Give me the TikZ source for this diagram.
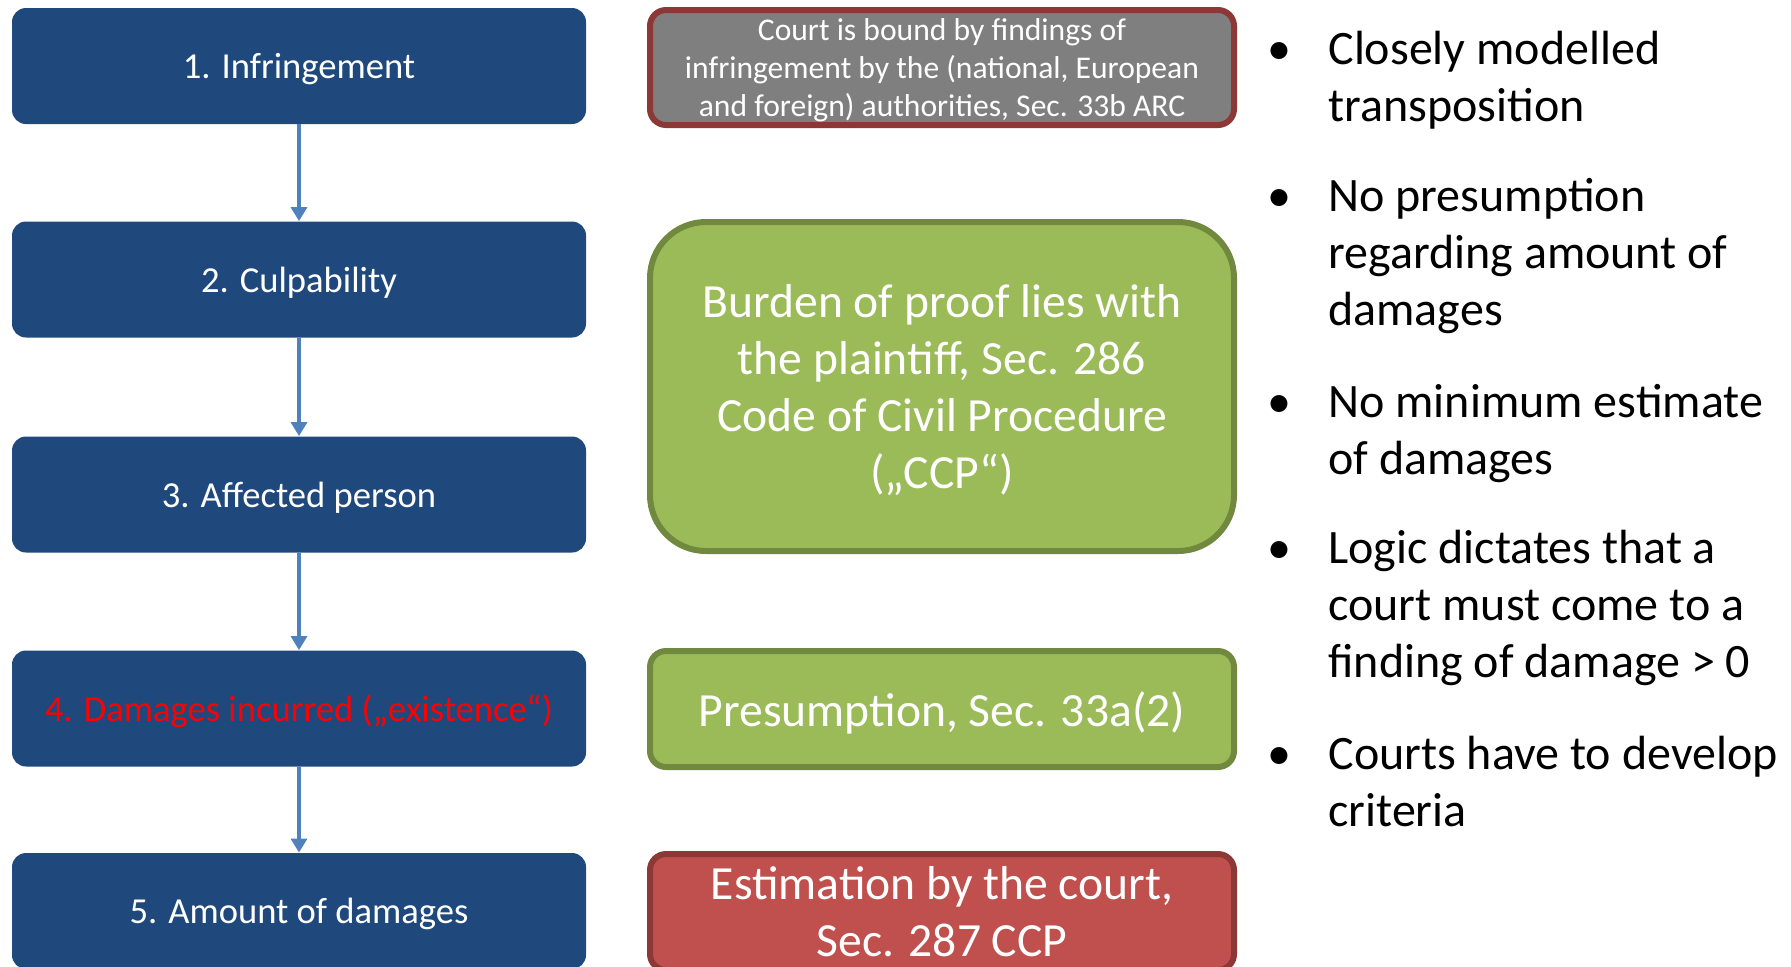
\documentclass[tikz,border=0pt]{standalone}
\usepackage{fontspec}
\setmainfont{Carlito}
\usepackage{xcolor}
\usepackage{tikz}
\usetikzlibrary{arrows.meta}
\definecolor{stageblue}{HTML}{1F497D}
\definecolor{flowblue}{HTML}{4F81BD}
\definecolor{ruleolive}{HTML}{9BBB59}
\definecolor{ruleolivedark}{HTML}{71893F}
\definecolor{rulered}{HTML}{C0504D}
\definecolor{ruleredark}{HTML}{8C3836}
\definecolor{rulegray}{HTML}{7F7F7F}
\tikzset{
  stagebox/.style={rectangle, rounded corners=7pt, fill=stageblue, text=white, minimum width=287pt, minimum height=58pt, inner sep=0pt, text height=12.5pt, text depth=0pt, align=center, font=\fontsize{18.3pt}{22pt}\selectfont},
  rulebox/.style={rectangle, rounded corners=8pt, line width=3pt, text=white, minimum width=292pt, inner sep=0pt, align=center, font=\fontsize{23.8pt}{28.5pt}\selectfont},
  flow/.style={draw=flowblue, line width=1.6pt, -{Triangle[width=8pt,length=7pt]}},
  pointtext/.style={anchor=north west, inner sep=0pt, yshift=19.95pt, align=left, font=\fontsize{24pt}{28.5pt}\selectfont},
  pointdot/.style={anchor=base, font=\fontsize{24pt}{28.5pt}\selectfont}
}

\begin{document}
\begin{tikzpicture}%
\useasboundingbox (0pt,0pt) rectangle (895.5pt,-483pt);%
\node[stagebox] (s1) at (149.5pt,-33pt) {1. Infringement};%
\node[stagebox] (s2) at (149.5pt,-139.75pt) {2. Culpability};%
\node[stagebox] (s3) at (149.5pt,-247.25pt) {3. Affected person};%
\node[stagebox, text=red] (s4) at (149.5pt,-354.25pt) {4. Damages incurred („existence“)};%
\node[stagebox] (s5) at (149.5pt,-455.5pt) {5. Amount of damages};%
\draw[flow] (s1.south) -- (s2.north);%
\draw[flow] (s2.south) -- (s3.north);%
\draw[flow] (s3.south) -- (s4.north);%
\draw[flow] (s4.south) -- (s5.north);%
\node[rulebox, draw=ruleredark, fill=rulegray, minimum height=57.5pt, text depth=0pt, font=\fontsize{15.8pt}{19pt}\selectfont] (bound) at (471pt,-33.75pt) {Court is bound by findings of\\infringement by the (national, European\\and foreign) authorities, Sec. 33b ARC};%
\node[rulebox, draw=ruleolivedark, fill=ruleolive, rounded corners=28pt, minimum height=164.5pt, text depth=0pt] (burden) at (471pt,-193.25pt) {Burden of proof lies with\\the plaintiff, Sec. 286\\Code of Civil Procedure\\(„CCP“)};%
\node[rulebox, draw=ruleolivedark, fill=ruleolive, minimum height=58pt, text depth=0pt] (presume) at (471pt,-354.5pt) {Presumption, Sec. 33a(2)};%
\node[rulebox, draw=ruleredark, fill=rulered, minimum height=58pt] (estimate) at (471pt,-456pt) {Estimation by the court,\\Sec. 287 CCP};%
\node[pointdot] (d1) at (639.5pt,-32pt) {•};%
\node[pointtext] (p1) at (664pt,-32pt) {\strut Closely modelled\\transposition};%
\node[pointdot] (d2) at (639.5pt,-105.5pt) {•};%
\node[pointtext] (p2) at (664pt,-105.5pt) {\strut No presumption\\regarding amount of\\damages};%
\node[pointdot] (d3) at (639.5pt,-208.5pt) {•};%
\node[pointtext] (p3) at (664pt,-208.5pt) {\strut No minimum estimate\\of damages};%
\node[pointdot] (d4) at (639.5pt,-281.5pt) {•};%
\node[pointtext] (p4) at (664pt,-281.5pt) {\strut Logic dictates that a\\court must come to a\\finding of damage > 0};%
\node[pointdot] (d5) at (639.5pt,-384.5pt) {•};%
\node[pointtext] (p5) at (664pt,-384.5pt) {\strut Courts have to develop\\criteria};%
\end{tikzpicture}
\end{document}
